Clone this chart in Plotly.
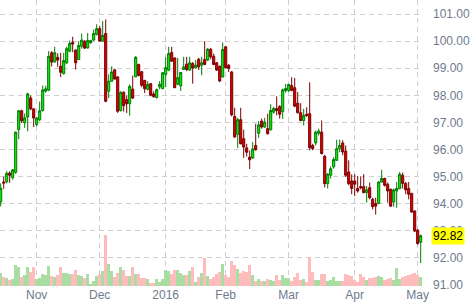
import pandas as pd
import plotly.graph_objects as go

# ---- data (US Dollar Index, daily) ----
holidays = ["2015-12-25", "2016-01-01", "2016-03-25"]
dates = [d for d in pd.bdate_range("2015-10-15", "2016-05-03")
         if d.strftime("%Y-%m-%d") not in holidays]

opens = [94.07, 94.80, 94.81, 95.13, 94.96, 95.16, 96.73, 97.43, 96.99, 97.20,
         97.90, 97.50, 96.92, 97.10, 97.44, 98.15, 98.19, 99.57, 99.23, 99.40,
         99.07, 98.80, 99.20, 99.63, 99.96, 99.67, 99.32, 99.81, 99.99, 99.75,
         99.94, 100.04, 100.25, 100.46, 100.00, 100.28, 98.15, 98.52, 98.94, 98.68,
         97.44, 98.11, 97.84, 97.69, 98.23, 98.68, 99.14, 98.87, 98.55, 98.22,
         98.43, 98.05, 97.92, 98.31, 98.25, 98.77, 98.93, 99.58, 99.38, 98.41,
         98.35, 98.95, 99.15, 98.93, 99.17, 99.01, 99.33, 99.11, 99.32, 99.30,
         99.70, 99.44, 99.20, 99.07, 98.68, 99.79, 99.11, 98.86, 97.22, 96.56,
         97.10, 96.40, 96.06, 95.72, 95.69, 96.15, 96.60, 97.05, 96.83, 96.77,
         96.73, 97.38, 97.51, 97.59, 97.40, 98.17, 98.18, 98.36, 98.28, 97.71,
         97.36, 97.07, 97.30, 97.32, 96.15, 96.24, 96.60, 96.64, 95.75, 94.74,
         95.05, 95.36, 95.60, 96.03, 96.24, 95.94, 95.17, 94.84, 94.84, 94.56,
         94.63, 94.63, 94.41, 94.59, 94.16, 94.01, 94.01, 94.80, 94.93, 94.72,
         94.53, 94.06, 94.47, 94.56, 95.05, 94.75, 94.56, 94.38, 93.73, 93.02,
         92.58]
highs = [94.75, 95.00, 95.20, 95.20, 95.28, 96.66, 97.45, 97.47, 97.33, 98.10,
         97.99, 97.52, 97.20, 97.77, 98.36, 98.35, 99.63, 99.63, 99.79, 99.55,
         99.57, 99.57, 99.80, 100.02, 100.16, 99.69, 100.00, 100.28, 100.04, 100.30,
         100.05, 100.43, 100.62, 100.56, 100.74, 100.80, 98.77, 99.07, 98.98, 98.70,
         98.15, 98.15, 97.99, 98.40, 98.73, 99.45, 99.16, 98.90, 98.57, 98.52,
         98.45, 98.15, 98.25, 98.53, 98.86, 99.40, 99.79, 99.79, 99.40, 99.38,
         98.86, 99.42, 99.42, 99.42, 99.23, 99.30, 99.38, 99.42, 100.00, 99.75,
         99.75, 99.54, 99.23, 99.10, 99.95, 99.81, 99.15, 98.90, 97.54, 97.17,
         97.54, 96.73, 96.21, 95.96, 96.27, 96.95, 97.05, 97.14, 97.17, 97.32,
         97.67, 97.57, 97.96, 97.63, 98.25, 98.42, 98.42, 98.67, 98.64, 98.12,
         97.71, 97.50, 97.56, 98.48, 96.21, 96.70, 96.77, 97.07, 95.80, 95.13,
         95.38, 95.72, 96.36, 96.36, 96.34, 96.15, 95.60, 95.08, 95.09, 95.02,
         95.00, 95.09, 94.65, 94.78, 94.22, 94.22, 94.84, 95.25, 94.96, 94.78,
         94.56, 94.56, 94.80, 95.17, 95.15, 94.80, 94.80, 94.40, 93.76, 93.07,
         92.86]
lows = [93.90, 94.55, 94.75, 94.77, 94.88, 95.10, 96.38, 96.98, 96.80, 96.67,
        97.45, 96.83, 96.85, 97.04, 97.40, 98.10, 98.15, 99.07, 99.20, 99.05,
        98.67, 98.77, 99.15, 99.59, 99.59, 98.95, 99.30, 99.72, 99.72, 99.72,
        99.90, 100.00, 100.21, 99.98, 99.98, 97.74, 97.90, 98.50, 98.58, 97.35,
        97.40, 97.40, 97.35, 97.25, 97.86, 98.67, 98.70, 98.30, 98.08, 98.18,
        97.96, 97.91, 97.88, 98.22, 98.22, 98.30, 98.89, 99.24, 98.27, 98.37,
        98.16, 98.93, 98.89, 98.90, 98.43, 98.98, 98.93, 98.74, 99.11, 99.26,
        99.33, 99.11, 98.90, 98.49, 98.65, 98.99, 98.86, 97.22, 96.43, 96.06,
        96.19, 95.69, 95.74, 95.28, 95.65, 95.96, 96.43, 96.77, 96.80, 96.56,
        96.70, 97.32, 97.26, 97.14, 97.13, 98.10, 98.12, 98.15, 97.56, 97.32,
        97.04, 96.89, 97.20, 95.97, 95.97, 96.15, 96.52, 95.82, 94.60, 94.56,
        94.93, 95.29, 95.58, 95.90, 95.79, 94.99, 94.68, 94.35, 94.28, 94.41,
        94.53, 94.38, 94.04, 94.16, 93.79, 93.60, 93.98, 94.78, 94.63, 94.04,
        93.89, 93.89, 93.85, 94.53, 94.56, 94.35, 94.16, 93.67, 92.95, 92.49,
        91.81]
closes = [94.57, 94.76, 95.12, 95.05, 95.25, 96.64, 97.43, 97.06, 97.17, 98.05,
          97.50, 97.16, 97.16, 97.43, 98.20, 98.24, 99.44, 99.23, 99.57, 99.30,
          98.85, 99.28, 99.72, 99.91, 99.89, 99.20, 99.84, 100.04, 99.74, 100.02,
          100.02, 100.28, 100.46, 100.00, 100.21, 97.78, 98.52, 98.86, 98.60, 97.41,
          98.11, 97.62, 97.69, 98.33, 97.90, 99.40, 98.73, 98.37, 98.24, 98.40,
          98.00, 97.95, 98.21, 98.41, 98.83, 99.02, 99.54, 99.26, 98.28, 98.65,
          98.84, 99.05, 98.95, 99.20, 99.01, 99.11, 99.05, 99.20, 99.14, 99.70,
          99.42, 99.14, 98.93, 98.53, 99.69, 99.02, 98.99, 97.28, 96.46, 97.10,
          96.21, 96.09, 95.90, 95.62, 96.02, 95.99, 96.91, 96.83, 97.01, 96.58,
          97.44, 97.51, 97.44, 97.30, 98.20, 98.25, 98.40, 98.18, 97.60, 97.36,
          97.07, 97.26, 97.26, 96.07, 96.03, 96.64, 96.68, 95.85, 94.74, 95.09,
          95.29, 95.63, 96.03, 96.15, 95.91, 95.05, 94.74, 94.56, 94.72, 94.47,
          94.59, 94.41, 94.51, 94.22, 93.89, 93.91, 94.80, 94.93, 94.68, 94.47,
          93.91, 94.51, 94.56, 95.09, 94.75, 94.51, 94.35, 93.69, 92.99, 92.53,
          92.82]
volumes = [13, 9, 8, 6, 7, 21, 19, 9, 11, 19, 14, 19, 7, 8, 12, 11, 20, 10, 9, 11,
           19, 13, 13, 12, 12, 16, 11, 10, 8, 12, 2, 5, 10, 12, 15, 51, 22, 15, 9, 13,
           19, 16, 10, 10, 19, 12, 12, 8, 8, 7, 3, 3, 7, 4, 7, 16, 15, 12, 16, 16,
           13, 11, 11, 15, 19, 4, 9, 13, 28, 10, 7, 9, 12, 14, 22, 11, 9, 25, 21, 17,
           13, 15, 14, 21, 11, 5, 7, 5, 5, 7, 6, 5, 11, 6, 11, 8, 8, 5, 9, 13,
           6, 7, 4, 29, 14, 6, 6, 12, 12, 5, 6, 9, 5, 5, 5, 12, 11, 10, 6, 4,
           12, 9, 6, 8, 8, 9, 10, 9, 6, 7, 8, 6, 18, 7, 9, 10, 11, 12, 13, 11,
           9]

assert len(dates) == len(opens) == len(highs) == len(lows) == len(closes) == len(volumes)

x = list(range(len(dates)))
labels = [d.strftime("%b %d, %Y") for d in dates]

# month ticks at the first trading day of each month
tick_vals, tick_text = [], []
for i in range(1, len(dates)):
    if dates[i].month != dates[i - 1].month:
        tick_vals.append(i)
        tick_text.append(str(dates[i].year) if dates[i].month == 1 else dates[i].strftime("%b"))

vol_colors = ["#aadda2" if c >= o else "#ffbcbc" for o, c in zip(opens, closes)]

fig = go.Figure()
fig.add_trace(go.Candlestick(
    x=x, open=opens, high=highs, low=lows, close=closes, text=labels,
    increasing=dict(line=dict(color="#007a00", width=1), fillcolor="#11ee11"),
    decreasing=dict(line=dict(color="#780000", width=1), fillcolor="#e00000"),
    whiskerwidth=0, showlegend=False,
))
fig.add_trace(go.Bar(
    x=x, y=volumes, yaxis="y2", marker=dict(color=vol_colors, line=dict(width=0)),
    showlegend=False,
))

grid = dict(showgrid=True, gridcolor="#cfcfcf", gridwidth=1, griddash="5px,4px")
tick_font = dict(family="Liberation Sans, Arial, sans-serif", size=12, color="#6f7a8b")

fig.update_layout(
    width=472, height=308,
    margin=dict(l=0, r=49, t=0, b=22),
    paper_bgcolor="white", plot_bgcolor="white",
    boxgap=0.0, bargap=0,
    xaxis=dict(range=[-0.23, 140.77], tickmode="array", tickvals=tick_vals, ticktext=tick_text,
               rangeslider=dict(visible=False), showline=False, zeroline=False, ticks="",
               tickfont=tick_font, **grid),
    yaxis=dict(range=[90.963, 101.517], side="right", dtick=1, tickformat=".2f",
               showline=False, zeroline=False, ticks="", ticklabelstandoff=9,
               tickfont=tick_font, **grid),
    yaxis2=dict(overlaying="y", range=[0, 286], visible=False, showgrid=False),
    annotations=[dict(
        xref="paper", x=1, xanchor="left", xshift=8, yref="y", y=closes[-1],
        text=f"{closes[-1]:.2f}", showarrow=False, bgcolor="#ffff00",
        font=dict(family="Liberation Sans, Arial, sans-serif", size=12, color="#000000"),
        borderpad=1,
    )],
)

fig.write_html("out.html")
